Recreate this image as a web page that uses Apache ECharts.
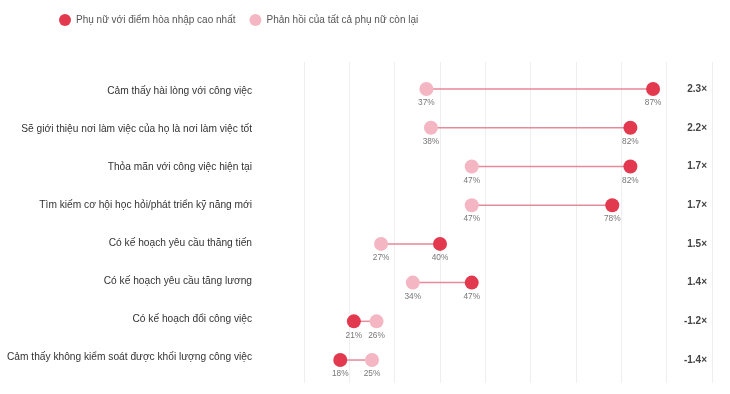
<!DOCTYPE html>
<html>
<head>
<meta charset="utf-8">
<script src="https://cdn.jsdelivr.net/npm/echarts@6/dist/echarts.min.js"></script>
<style>
html,body{margin:0;padding:0;background:#fff;}
#c{width:730px;height:394px;}
</style>
</head>
<body>
<div id="c"></div>
<script>
const categories = [
  "Cảm thấy hài lòng với công việc",
  "Sẽ giới thiệu nơi làm việc của họ là nơi làm việc tốt",
  "Thỏa mãn với công việc hiện tại",
  "Tìm kiếm cơ hội học hỏi/phát triển kỹ năng mới",
  "Có kế hoạch yêu cầu thăng tiến",
  "Có kế hoạch yêu cầu tăng lương",
  "Có kế hoạch đổi công việc",
  "Cảm thấy không kiểm soát được khối lượng công việc"
];
const topWomen = [87, 82, 82, 78, 40, 47, 21, 18];
const otherWomen = [37, 38, 47, 47, 27, 34, 26, 25];
const ratios = ["2.3×", "2.2×", "1.7×", "1.7×", "1.5×", "1.4×", "-1.2×", "-1.4×"];
const seriesNames = ["Phụ nữ với điểm hòa nhập cao nhất", "Phản hồi của tất cả phụ nữ còn lại"];

const RED = "#e2394f";
const PINK = "#f4b6c3";
const FONT = "'Liberation Sans', Arial, sans-serif";

const chart = echarts.init(document.getElementById('c'), null, {renderer: 'canvas'});
const lbl = {
  show: true, position: 'bottom', distance: 3,
  formatter: p => p.value[0] + '%',
  color: '#777', fontSize: 8.3, fontFamily: FONT
};
const hiddenX = (gi) => ({gridIndex: gi, type: 'value', min: 10, max: 100, interval: 10,
  axisLine: {show: false}, axisTick: {show: false}, axisLabel: {show: false}, splitLine: {show: false}});
chart.setOption({
  animation: false,
  backgroundColor: '#fff',
  textStyle: {fontFamily: FONT},
  legend: {
    left: 54, top: 9, itemWidth: 12, itemHeight: 12, itemGap: 14,
    icon: 'circle',
    textStyle: {color: '#555', fontSize: 10, fontFamily: FONT},
    data: seriesNames
  },
  grid: [
    {left: 304, right: 18, top: 62, bottom: 11, outerBoundsMode: 'none', containLabel: false},
    {left: 304, right: 18, top: 69.7, bottom: 14.6, outerBoundsMode: 'none', containLabel: false},
    {left: 304, right: 18, top: 72.5, bottom: 18, outerBoundsMode: 'none', containLabel: false}
  ],
  xAxis: [
    {gridIndex: 0, type: 'value', min: 10, max: 100, interval: 10,
     axisLine: {show: false}, axisTick: {show: false}, axisLabel: {show: false},
     splitLine: {show: true, lineStyle: {color: '#efefef', width: 1}}},
    hiddenX(1),
    hiddenX(2)
  ],
  yAxis: [
    {gridIndex: 0, type: 'category', data: categories, show: false},
    {gridIndex: 1, type: 'category', data: categories, inverse: true, position: 'right',
     axisLine: {show: false}, axisTick: {show: false},
     axisLabel: {inside: true, margin: 5, color: '#444', fontSize: 10, fontWeight: 'bold',
       fontFamily: FONT, formatter: (v, i) => ratios[i]}},
    {gridIndex: 2, type: 'category', data: categories, inverse: true,
     axisLine: {show: false}, axisTick: {show: false},
     axisLabel: {color: '#333', fontSize: 10.2, margin: 52, fontFamily: FONT}}
  ],
  series: [
    {
      type: 'custom', xAxisIndex: 1, yAxisIndex: 1, silent: true, z: 1,
      data: categories.map((c, i) => [topWomen[i], otherWomen[i], i]),
      renderItem: (params, api) => {
        const a = api.coord([api.value(0), api.value(2)]);
        const b = api.coord([api.value(1), api.value(2)]);
        return {type: 'line', shape: {x1: a[0], y1: a[1], x2: b[0], y2: b[1]},
                style: {stroke: '#e6899a', lineWidth: 1.5}};
      },
      encode: {x: [0, 1], y: 2}
    },
    {
      name: seriesNames[1], type: 'scatter', xAxisIndex: 1, yAxisIndex: 1, z: 2,
      symbolSize: 14, itemStyle: {color: PINK, opacity: 1},
      data: otherWomen.map((v, i) => [v, i]), label: lbl
    },
    {
      name: seriesNames[0], type: 'scatter', xAxisIndex: 1, yAxisIndex: 1, z: 3,
      symbolSize: 14, itemStyle: {color: RED, opacity: 1},
      data: topWomen.map((v, i) => [v, i]), label: lbl
    }
  ]
});
</script>
</body>
</html>
